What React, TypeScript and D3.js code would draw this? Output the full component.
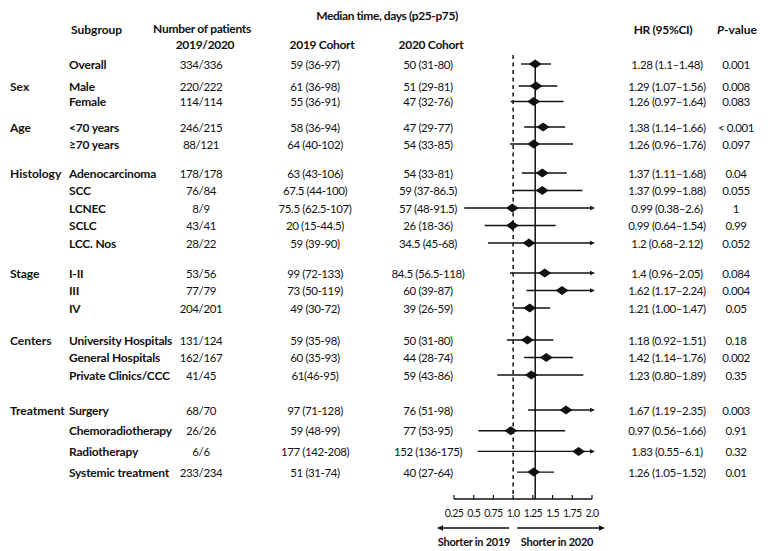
import React from "react";
import * as d3 from "d3";

const groupNames = ["", "Sex", "Age", "Histology", "Stage", "Centers", "Treatment"];
const subgroups = [
  "Overall", "Male", "Female", "<70 years", "≥70 years",
  "Adenocarcinoma", "SCC", "LCNEC", "SCLC", "LCC. Nos",
  "I-II", "III", "IV",
  "University Hospitals", "General Hospitals", "Private Clinics/CCC",
  "Surgery", "Chemoradiotherapy", "Radiotherapy", "Systemic treatment",
];
const groupOf = [0, 1, 1, 2, 2, 3, 3, 3, 3, 3, 4, 4, 4, 5, 5, 5, 6, 6, 6, 6];
const patients = [
  "334/336", "220/222", "114/114", "246/215", "88/121",
  "178/178", "76/84", "8/9", "43/41", "28/22",
  "53/56", "77/79", "204/201",
  "131/124", "162/167", "41/45",
  "68/70", "26/26", "6/6", "233/234",
];
const median2019 = [
  "59 (36-97)", "61 (36-98)", "55 (36-91)", "58 (36-94)", "64 (40-102)",
  "63 (43-106)", "67.5 (44-100)", "75.5 (62.5-107)", "20 (15-44.5)", "59 (39-90)",
  "99 (72-133)", "73 (50-119)", "49 (30-72)",
  "59 (35-98)", "60 (35-93)", "61(46-95)",
  "97 (71-128)", "59 (48-99)", "177 (142-208)", "51 (31-74)",
];
const median2020 = [
  "50 (31-80)", "51 (29-81)", "47 (32-76)", "47 (29-77)", "54 (33-85)",
  "54 (33-81)", "59 (37-86.5)", "57 (48-91.5)", "26 (18-36)", "34.5 (45-68)",
  "84.5 (56.5-118)", "60 (39-87)", "39 (26-59)",
  "50 (31-80)", "44 (28-74)", "59 (43-86)",
  "76 (51-98)", "77 (53-95)", "152 (136-175)", "40 (27-64)",
];
const hr = [1.28, 1.29, 1.26, 1.38, 1.26, 1.37, 1.37, 0.99, 0.99, 1.2, 1.4, 1.62, 1.21, 1.18, 1.42, 1.23, 1.67, 0.97, 1.83, 1.26];
const ciLow = [1.1, 1.07, 0.97, 1.14, 0.96, 1.11, 0.99, 0.38, 0.64, 0.68, 0.96, 1.17, 1.0, 0.92, 1.14, 0.8, 1.19, 0.56, 0.55, 1.05];
const ciHigh = [1.48, 1.56, 1.64, 1.66, 1.76, 1.68, 1.88, 2.6, 1.54, 2.12, 2.05, 2.24, 1.47, 1.51, 1.76, 1.89, 2.35, 1.66, 6.1, 1.52];
const hrText = [
  "1.28 (1.1–1.48)", "1.29 (1.07–1.56)", "1.26 (0.97–1.64)", "1.38 (1.14–1.66)", "1.26 (0.96–1.76)",
  "1.37 (1.11–1.68)", "1.37 (0.99–1.88)", "0.99 (0.38–2.6)", "0.99 (0.64–1.54)", "1.2 (0.68–2.12)",
  "1.4 (0.96–2.05)", "1.62 (1.17–2.24)", "1.21 (1.00–1.47)",
  "1.18 (0.92–1.51)", "1.42 (1.14–1.76)", "1.23 (0.80–1.89)",
  "1.67 (1.19–2.35)", "0.97 (0.56–1.66)", "1.83 (0.55–6.1)", "1.26 (1.05–1.52)",
];
const pValues = [
  "0.001", "0.008", "0.083", "< 0.001", "0.097",
  "0.04", "0.055", "1", "0.99", "0.052",
  "0.084", "0.004", "0.05",
  "0.18", "0.002", "0.35",
  "0.003", "0.91", "0.32", "0.01",
];
const tickValues = [0.25, 0.5, 0.75, 1.0, 1.25, 1.5, 1.75, 2.0];

// layout (styling)
const groupGap = [0, 4.5, 8, 11.5, 12.5, 14.5, 17.5];
const groupStep = [17.5, 15.5, 17, 17.5, 17.5, 17.5, 20.7];
const FONT = "Lato, 'Open Sans', sans-serif";
const INK = "#111";

export default function App() {
  const x = d3.scaleLinear().domain([0.25, 2.0]).range([454, 592]);
  const axisY = 499;

  const rowY: number[] = [];
  let y = 64;
  subgroups.forEach((_, i) => {
    if (i > 0) {
      const g = groupOf[i];
      if (g !== groupOf[i - 1]) y += 17.5 + groupGap[g];
      else y += groupStep[g];
    }
    rowY.push(y);
  });

  const xMax = x(2.0) + 3;
  const diamond = (cx: number, cy: number) =>
    `M${cx - 6.5},${cy}L${cx},${cy - 4.5}L${cx + 6.5},${cy}L${cx},${cy + 4.5}Z`;
  const arrowRight = (tx: number, ty: number, len = 6, hw = 2.8) =>
    `M${tx},${ty}L${tx - len},${ty - hw}L${tx - len},${ty + hw}Z`;
  const arrowLeft = (tx: number, ty: number, len = 6, hw = 2.8) =>
    `M${tx},${ty}L${tx + len},${ty - hw}L${tx + len},${ty + hw}Z`;

  const text = (props: any, content: React.ReactNode, key?: any) => (
    <text key={key} fontFamily={FONT} fill={INK} fontSize={12} dominantBaseline="central" {...props}>
      {content}
    </text>
  );
  const val = { fontSize: 11.5, letterSpacing: -0.4 };

  const firstOfGroup = subgroups.map((_, i) => i === 0 || groupOf[i] !== groupOf[i - 1]);

  return (
    <svg width={768} height={551} style={{ position: "absolute", left: 0, top: 0, background: "#fff" }}>
      <rect width={768} height={551} fill="#fff" />
      {/* headers */}
      {text({ x: 387, y: 15, textAnchor: "middle", fontWeight: 700, letterSpacing: -0.4 }, "Median time, days (p25-p75)")}
      {text({ x: 71, y: 29, fontWeight: 700 }, "Subgroup")}
      {text({ x: 202, y: 28.5, textAnchor: "middle", fontWeight: 700, letterSpacing: -0.3 }, "Number of  patients")}
      {text({ x: 205, y: 44, textAnchor: "middle", fontWeight: 700, letterSpacing: -0.3 }, "2019/2020")}
      {text({ x: 322, y: 44, textAnchor: "middle", fontWeight: 700, letterSpacing: -0.3 }, "2019 Cohort")}
      {text({ x: 431, y: 44, textAnchor: "middle", fontWeight: 700, letterSpacing: -0.3 }, "2020 Cohort")}
      {text({ x: 663, y: 29, textAnchor: "middle", fontWeight: 700, letterSpacing: -0.3 }, "HR (95%CI)")}
      {text(
        { x: 737, y: 29, textAnchor: "middle", fontWeight: 700 },
        <>
          <tspan fontStyle="italic">P</tspan>-value
        </>
      )}

      {/* rows text */}
      {subgroups.map((s, i) => (
        <g key={"r" + i}>
          {firstOfGroup[i] && groupNames[groupOf[i]]
            ? text({ x: 10, y: rowY[i], fontWeight: 700 }, groupNames[groupOf[i]])
            : null}
          {text({ x: 69, y: rowY[i], fontWeight: 700, letterSpacing: -0.2 }, s)}
          {text({ x: 201, y: rowY[i], textAnchor: "middle", ...val }, patients[i])}
          {text({ x: 315, y: rowY[i], textAnchor: "middle", ...val }, median2019[i])}
          {text({ x: 428, y: rowY[i], textAnchor: "middle", ...val }, median2020[i])}
          {text({ x: 667, y: rowY[i], textAnchor: "middle", ...val }, hrText[i])}
          {text({ x: 736, y: rowY[i], textAnchor: "middle", ...val }, pValues[i])}
        </g>
      ))}

      {/* reference lines */}
      <line x1={x(1)} x2={x(1)} y1={55} y2={axisY} stroke={INK} strokeWidth={1.5} strokeDasharray="4,3.5" />
      <line x1={x(hr[0])} x2={x(hr[0])} y1={rowY[0]} y2={axisY} stroke={INK} strokeWidth={1.5} />

      {/* CIs */}
      {subgroups.map((_, i) => {
        const lo = Math.max(x(ciLow[i]), 440);
        const over = ciHigh[i] > 2.0;
        const hi = over ? xMax : x(ciHigh[i]);
        return (
          <g key={"f" + i}>
            <line x1={lo} x2={over ? hi - 4 : hi} y1={rowY[i]} y2={rowY[i]} stroke={INK} strokeWidth={1.4} />
            {over ? <path d={arrowRight(hi, rowY[i], 5, 2.3)} fill={INK} /> : null}
            <path d={diamond(x(hr[i]), rowY[i])} fill={INK} />
          </g>
        );
      })}

      {/* axis */}
      <line x1={x(0.25)} x2={x(2.0)} y1={axisY} y2={axisY} stroke={INK} strokeWidth={1.4} />
      {tickValues.map((t) => (
        <line key={"t" + t} x1={x(t)} x2={x(t)} y1={axisY} y2={axisY - 4} stroke={INK} strokeWidth={1.2} />
      ))}
      {tickValues.map((t) =>
        text(
          { x: x(t), y: 513, textAnchor: "middle", fontSize: 10.5, letterSpacing: -0.6 },
          t % 1 === 0 ? t.toFixed(1) : String(t),
          "tl" + t
        )
      )}

      {/* direction arrows */}
      <line x1={x(1) - 4} x2={x(0.25) - 12} y1={528} y2={528} stroke={INK} strokeWidth={1.6} />
      <path d={arrowLeft(x(0.25) - 17, 528)} fill={INK} />
      <line x1={x(1) + 4} x2={x(2) + 8} y1={528} y2={528} stroke={INK} strokeWidth={1.6} />
      <path d={arrowRight(x(2) + 13, 528)} fill={INK} />
      {text({ x: 474, y: 541, textAnchor: "middle", fontWeight: 700, fontSize: 11, letterSpacing: -0.25 }, "Shorter in 2019")}
      {text({ x: 557, y: 541, textAnchor: "middle", fontWeight: 700, fontSize: 11, letterSpacing: -0.25 }, "Shorter in 2020")}
    </svg>
  );
}
